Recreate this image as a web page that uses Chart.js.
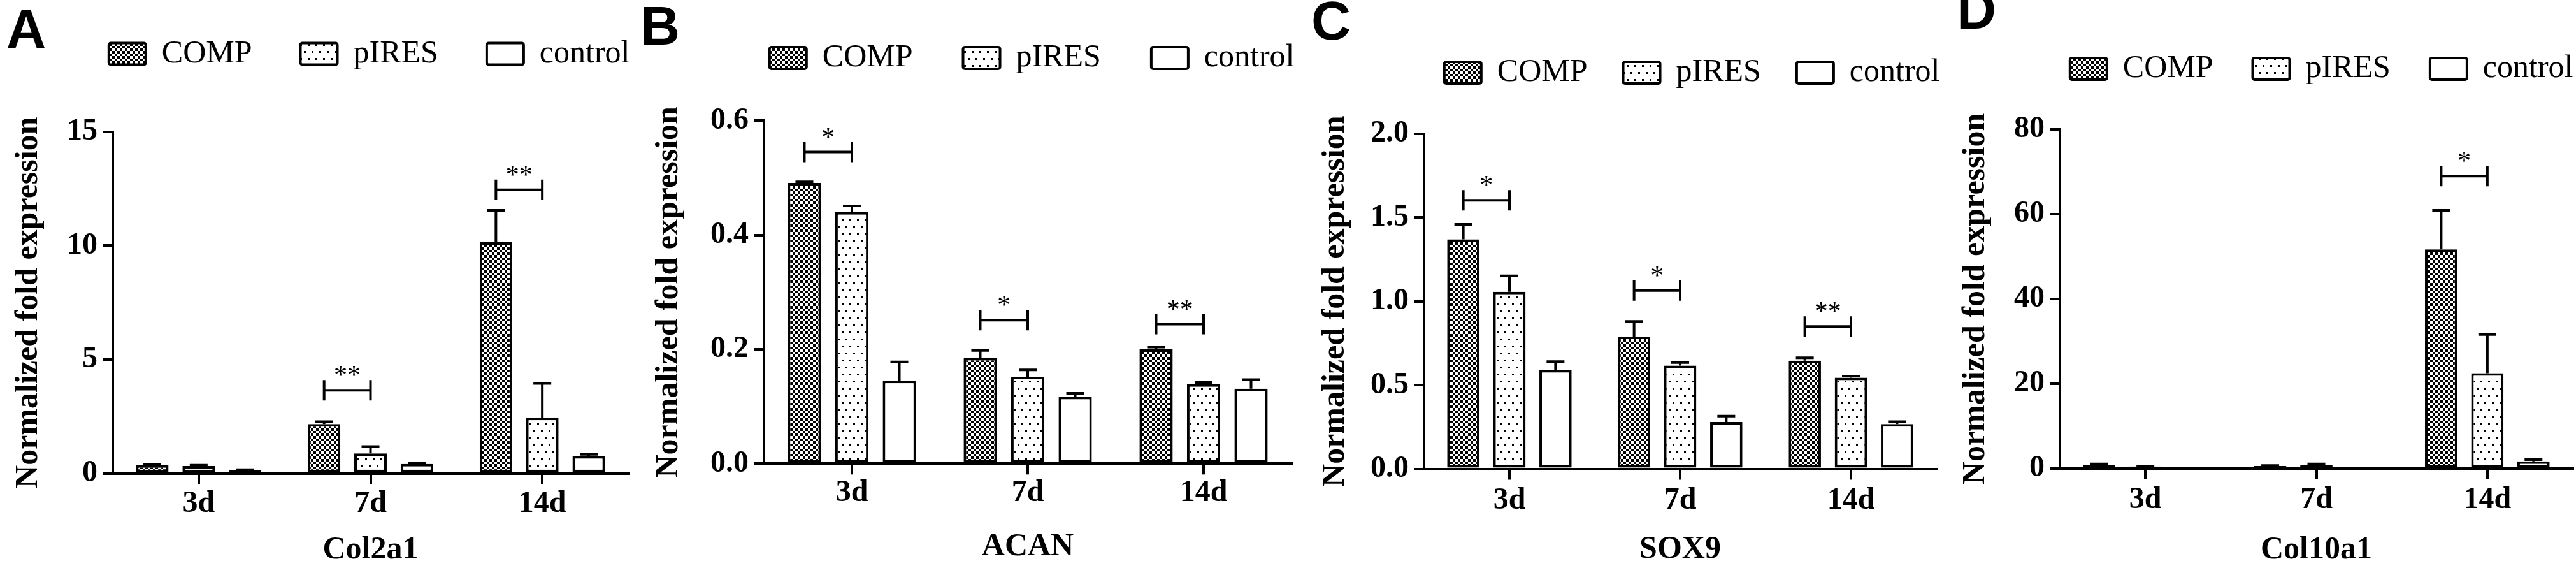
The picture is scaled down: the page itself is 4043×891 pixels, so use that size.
<!DOCTYPE html>
<html lang="en">
<head>
  <meta charset="UTF-8">
  <title>COMP overexpression - chondrogenic markers</title>
  <script src="https://cdn.jsdelivr.net/npm/chart.js@4"></script>
  <style>
    body {
      margin: 0;
      width: 4043px;
      height: 891px;
      overflow: hidden;
      position: relative;
      background: #fff;
    }
    .panel {
      position: absolute;
      top: 0;
      height: 891px;
    }
    .letter {
      position: absolute;
      font: bold 86px 'Liberation Sans', Arial, sans-serif;
      line-height: 1;
      color: #000;
      z-index: 2;
    }
  </style>
</head>
<body>
  <div class="panel" style="left:0;width:1000px"><canvas id="chartA"></canvas></div>
  <div class="panel" style="left:1000px;width:1040px"><canvas id="chartB"></canvas></div>
  <div class="panel" style="left:2040px;width:1010px"><canvas id="chartC"></canvas></div>
  <div class="panel" style="left:3050px;width:993px"><canvas id="chartD"></canvas></div>

  <div class="letter" style="left:10px;top:2px">A</div>
  <div class="letter" style="left:1005px;top:-3px">B</div>
  <div class="letter" style="left:2058px;top:-11px">C</div>
  <div class="letter" style="left:3071px;top:-28px">D</div>

  <script>
    // Shared categories
    const days = ['3d', '7d', '14d'];
    const groups = ['COMP', 'pIRES', 'control'];
    const yTitle = 'Normalized fold expression';

    // Col2a1
    const col2a1Comp = [0.36, 2.17, 10.15];
    const col2a1CompSd = [0.04, 0.1, 1.4];
    const col2a1Pires = [0.33, 0.88, 2.45];
    const col2a1PiresSd = [0.03, 0.3, 1.5];
    const col2a1Ctrl = [0.15, 0.42, 0.76];
    const col2a1CtrlSd = [0.02, 0.03, 0.08];
    const col2a1Ticks = [0, 5, 10, 15];
    const col2a1TickLabels = ['0', '5', '10', '15'];
    const col2a1SigDay = [1, 2];
    const col2a1SigY = [3.65, 12.45];
    const col2a1SigMark = ['**', '**'];

    // ACAN
    const acanComp = [0.491, 0.185, 0.2];
    const acanCompSd = [0.002, 0.013, 0.004];
    const acanPires = [0.44, 0.152, 0.139];
    const acanPiresSd = [0.011, 0.012, 0.003];
    const acanCtrl = [0.145, 0.117, 0.131];
    const acanCtrlSd = [0.033, 0.006, 0.016];
    const acanTicks = [0, 0.2, 0.4, 0.6];
    const acanTickLabels = ['0.0', '0.2', '0.4', '0.6'];
    const acanSigDay = [0, 1, 2];
    const acanSigY = [0.545, 0.251, 0.244];
    const acanSigMark = ['*', '*', '**'];

    // SOX9
    const sox9Comp = [1.37, 0.79, 0.646];
    const sox9CompSd = [0.09, 0.09, 0.017];
    const sox9Pires = [1.057, 0.617, 0.544];
    const sox9PiresSd = [0.095, 0.018, 0.01];
    const sox9Ctrl = [0.59, 0.28, 0.267];
    const sox9CtrlSd = [0.05, 0.035, 0.015];
    const sox9Ticks = [0, 0.5, 1, 1.5, 2];
    const sox9TickLabels = ['0.0', '0.5', '1.0', '1.5', '2.0'];
    const sox9SigDay = [0, 1, 2];
    const sox9SigY = [1.603, 1.065, 0.85];
    const sox9SigMark = ['*', '*', '**'];

    // Col10a1
    const col10a1Comp = [0.8, 0.6, 51.7];
    const col10a1CompSd = [0.3, 0.1, 9.2];
    const col10a1Pires = [0.5, 0.8, 22.5];
    const col10a1PiresSd = [0.1, 0.3, 9.1];
    const col10a1Ctrl = [0.1, 0.1, 1.7];
    const col10a1CtrlSd = [0, 0, 0.4];
    const col10a1Ticks = [0, 20, 40, 60, 80];
    const col10a1TickLabels = ['0', '20', '40', '60', '80'];
    const col10a1SigDay = [2];
    const col10a1SigY = [69];
    const col10a1SigMark = ['*'];

    const serif = "'Liberation Serif', 'Times New Roman', serif";
    Chart.defaults.font.family = serif;
    Chart.defaults.color = '#000';

    // Fill patterns for the three groups
    function checkerPattern() {
      const c = document.createElement('canvas');
      c.width = 8; c.height = 8;
      const g = c.getContext('2d');
      g.fillStyle = '#fff'; g.fillRect(0, 0, 8, 8);
      g.fillStyle = '#000'; g.fillRect(0, 0, 4, 4); g.fillRect(4, 4, 4, 4);
      return g.createPattern(c, 'repeat');
    }
    function dotPattern() {
      const c = document.createElement('canvas');
      c.width = 12; c.height = 22;
      const g = c.getContext('2d');
      g.fillStyle = '#fff'; g.fillRect(0, 0, 12, 22);
      g.fillStyle = '#000'; g.fillRect(3, 3, 3, 3); g.fillRect(9, 14, 3, 3);
      return g.createPattern(c, 'repeat');
    }
    const fills = [checkerPattern(), dotPattern(), '#fff'];

    // Upward SD whiskers
    const errorBars = {
      id: 'errorBars',
      afterDatasetsDraw(chart) {
        const ctx = chart.ctx, y = chart.scales.y;
        ctx.save();
        ctx.strokeStyle = '#000';
        ctx.lineWidth = 4;
        chart.data.datasets.forEach((ds, i) => {
          chart.getDatasetMeta(i).data.forEach((bar, j) => {
            if (!ds.sd[j]) return;
            const top = y.getPixelForValue(ds.data[j] + ds.sd[j]);
            ctx.beginPath();
            ctx.moveTo(bar.x, bar.y);
            ctx.lineTo(bar.x, top);
            ctx.moveTo(bar.x - 14, top);
            ctx.lineTo(bar.x + 14, top);
            ctx.stroke();
          });
        });
        ctx.restore();
      }
    };

    // COMP vs pIRES significance brackets
    const sigBrackets = {
      id: 'sigBrackets',
      afterDatasetsDraw(chart, args, opts) {
        const ctx = chart.ctx, y = chart.scales.y;
        const a = chart.getDatasetMeta(0).data, b = chart.getDatasetMeta(1).data;
        ctx.save();
        ctx.strokeStyle = '#000';
        ctx.fillStyle = '#000';
        ctx.lineWidth = 4;
        ctx.font = '42px ' + serif;
        ctx.textAlign = 'center';
        ctx.textBaseline = 'alphabetic';
        opts.days.forEach((d, k) => {
          const x1 = a[d].x, x2 = b[d].x, py = y.getPixelForValue(opts.ys[k]);
          ctx.beginPath();
          ctx.moveTo(x1, py); ctx.lineTo(x2, py);
          ctx.moveTo(x1, py - 16); ctx.lineTo(x1, py + 16);
          ctx.moveTo(x2, py - 16); ctx.lineTo(x2, py + 16);
          ctx.stroke();
          ctx.fillText(opts.marks[k], (x1 + x2) / 2, py - 10);
        });
        ctx.restore();
      }
    };

    // Rotated y title drawn at full size (the scale title would get squeezed)
    const sideTitle = {
      id: 'sideTitle',
      afterDraw(chart, args, opts) {
        const ctx = chart.ctx, area = chart.chartArea;
        ctx.save();
        ctx.translate(opts.x, (area.top + area.bottom) / 2);
        ctx.rotate(-Math.PI / 2);
        ctx.font = 'bold 50px ' + serif;
        ctx.fillStyle = '#000';
        ctx.textAlign = 'center';
        ctx.textBaseline = 'middle';
        ctx.fillText(opts.text, 0, 0);
        ctx.restore();
      }
    };

    // Legend sits right-aligned above the plot, its height fixes the plot top
    const legendSpot = {
      id: 'legendSpot',
      beforeInit(chart) {
        const lg = chart.legend;
        const fit = lg.fit;
        lg.fit = function () {
          fit.call(this);
          this.height = chart.options.plugins.legendSpot.height;
        };
      },
      afterLayout(chart, args, opts) {
        const lg = chart.legend;
        const labels = chart.options.plugins.legend.labels;
        const pad = labels.padding, fs = labels.font.size;
        lg.left = 0;
        lg.right = opts.textEnd + pad + 0.5;
        lg.top = opts.centerY - pad - fs / 2;
        lg.bottom = lg.top + 2 * pad + fs + 10;
      }
    };

    function makePanel(p) {
      const sets = [p.comp, p.pires, p.ctrl];
      const sds = [p.compSd, p.piresSd, p.ctrlSd];
      const plotW = p.chartRight - p.left;
      return new Chart(document.getElementById(p.id), {
        type: 'bar',
        data: {
          labels: days,
          datasets: groups.map((g, i) => ({
            label: g,
            data: sets[i],
            sd: sds[i],
            backgroundColor: fills[i],
            borderColor: '#000',
            borderWidth: 4,
            borderSkipped: false,
            categoryPercentage: 0.81,
            barPercentage: 0.7
          }))
        },
        options: {
          responsive: true,
          maintainAspectRatio: false,
          animation: false,
          layout: { padding: { left: 0, top: 0, bottom: 0, right: p.width - plotW } },
          plugins: {
            tooltip: { enabled: false },
            legend: {
              position: 'top',
              align: 'end',
              labels: {
                boxWidth: 58,
                boxHeight: 34,
                padding: p.legendPad,
                color: '#000',
                useBorderRadius: true,
                borderRadius: 3,
                font: { family: serif, size: 50 }
              }
            },
            legendSpot: { height: p.chartTop, textEnd: p.legendEnd - p.left, centerY: p.legendY },
            sigBrackets: { days: p.sigDay, ys: p.sigY, marks: p.sigMark },
            sideTitle: { text: yTitle, x: p.yTitleX - p.left }
          },
          scales: {
            x: {
              afterFit: s => { s.height = 891 - p.chartBottom; },
              grid: { offset: false, drawOnChartArea: false, tickLength: 17, lineWidth: 4, color: '#000' },
              border: { color: '#000', width: 4 },
              ticks: { padding: p.xTickPad, color: '#000', font: { size: 48, weight: 'bold', lineHeight: 1 } },
              title: {
                display: true,
                text: p.gene,
                color: '#000',
                font: { size: 50, weight: 'bold', lineHeight: 1 },
                padding: { top: 0, bottom: p.xTitlePad }
              }
            },
            y: {
              min: 0,
              max: p.ticks[p.ticks.length - 1],
              afterFit: s => { s.width = p.chartLeft - p.left; },
              afterBuildTicks: s => { s.ticks = p.ticks.map(v => ({ value: v })); },
              grid: { drawOnChartArea: false, tickLength: 16, lineWidth: 4, color: '#000' },
              border: { color: '#000', width: 4 },
              ticks: {
                padding: 8,
                color: '#000',
                font: { size: 48, weight: 'bold', lineHeight: 1 },
                callback: (v, i) => p.tickLabels[i]
              }
            }
          }
        },
        plugins: [legendSpot, errorBars, sigBrackets, sideTitle]
      });
    }

    makePanel({
      id: 'chartA', gene: 'Col2a1', left: 0, width: 1000,
      chartLeft: 177, chartRight: 986, chartTop: 206.7, chartBottom: 742.7,
      legendEnd: 988, legendY: 84.5, legendPad: 76, yTitleX: 45, xTickPad: 7, xTitlePad: 3,
      comp: col2a1Comp, compSd: col2a1CompSd, pires: col2a1Pires, piresSd: col2a1PiresSd,
      ctrl: col2a1Ctrl, ctrlSd: col2a1CtrlSd, ticks: col2a1Ticks, tickLabels: col2a1TickLabels,
      sigDay: col2a1SigDay, sigY: col2a1SigY, sigMark: col2a1SigMark
    });
    makePanel({
      id: 'chartB', gene: 'ACAN', left: 1000, width: 1040,
      chartLeft: 1199, chartRight: 2027, chartTop: 189.3, chartBottom: 727.3,
      legendEnd: 2031, legendY: 91, legendPad: 79, yTitleX: 1050, xTickPad: 5, xTitlePad: 8,
      comp: acanComp, compSd: acanCompSd, pires: acanPires, piresSd: acanPiresSd,
      ctrl: acanCtrl, ctrlSd: acanCtrlSd, ticks: acanTicks, tickLabels: acanTickLabels,
      sigDay: acanSigDay, sigY: acanSigY, sigMark: acanSigMark
    });
    makePanel({
      id: 'chartC', gene: 'SOX9', left: 2040, width: 1010,
      chartLeft: 2235, chartRight: 3039, chartTop: 210, chartBottom: 735.5,
      legendEnd: 3044, legendY: 114, legendPad: 56, yTitleX: 2096, xTickPad: 9, xTitlePad: 4,
      comp: sox9Comp, compSd: sox9CompSd, pires: sox9Pires, piresSd: sox9PiresSd,
      ctrl: sox9Ctrl, ctrlSd: sox9CtrlSd, ticks: sox9Ticks, tickLabels: sox9TickLabels,
      sigDay: sox9SigDay, sigY: sox9SigY, sigMark: sox9SigMark
    });
    makePanel({
      id: 'chartD', gene: 'Col10a1', left: 3050, width: 993,
      chartLeft: 3233, chartRight: 4038, chartTop: 203, chartBottom: 735,
      legendEnd: 4038, legendY: 108, legendPad: 62, yTitleX: 3101, xTickPad: 9, xTitlePad: 3,
      comp: col10a1Comp, compSd: col10a1CompSd, pires: col10a1Pires, piresSd: col10a1PiresSd,
      ctrl: col10a1Ctrl, ctrlSd: col10a1CtrlSd, ticks: col10a1Ticks, tickLabels: col10a1TickLabels,
      sigDay: col10a1SigDay, sigY: col10a1SigY, sigMark: col10a1SigMark
    });
  </script>
</body>
</html>
